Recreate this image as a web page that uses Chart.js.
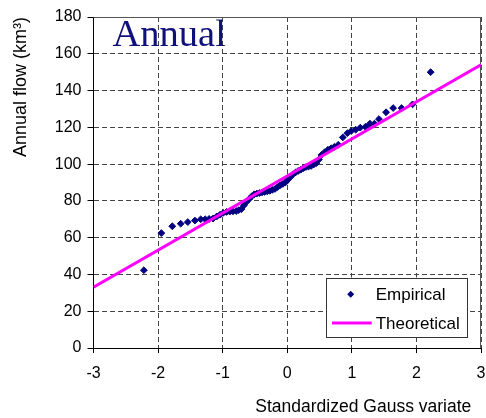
<!DOCTYPE html>
<html><head><meta charset="utf-8">
<script src="https://cdn.jsdelivr.net/npm/chart.js@4/dist/chart.umd.min.js"></script>
<style>html,body{margin:0;padding:0;background:#fff;overflow:hidden;}</style>
</head><body>
<canvas id="c" width="486" height="418"></canvas>
<script>
// ---- data ----
const gaussVariate = [
  -2.22, -1.95, -1.78, -1.65, -1.54, -1.43, -1.34, -1.27, -1.21, -1.15,
  -1.09, -1.04, -0.99, -0.94, -0.89, -0.84, -0.79, -0.75, -0.71, -0.67,
  -0.63, -0.59, -0.55, -0.51, -0.47, -0.43, -0.39, -0.35, -0.31, -0.27,
  -0.23, -0.19, -0.15, -0.11, -0.07, -0.03, 0.01, 0.05, 0.09, 0.13,
  0.17, 0.21, 0.25, 0.29, 0.33, 0.37, 0.41, 0.45, 0.49, 0.53,
  0.58, 0.63, 0.68, 0.73, 0.79, 0.86, 0.93, 0.99, 1.06, 1.13,
  1.21, 1.28, 1.35, 1.42, 1.53, 1.64, 1.77, 1.94, 2.22
];
const annualFlow = [
  42.3, 62.5, 66.2, 67.6, 68.5, 69.3, 70.0, 70.0, 70.2, 70.4,
  71.6, 72.5, 73.5, 74.0, 74.2, 74.3, 74.5, 75.0, 75.5, 77.6,
  79.5, 81.0, 82.5, 83.6, 84.0, 84.3, 84.6, 84.9, 85.2, 85.5,
  86.0, 86.5, 87.5, 88.5, 89.2, 90.0, 91.5, 93.0, 94.5, 95.5,
  96.3, 97.0, 97.8, 98.4, 98.7, 99.0, 99.8, 100.5, 102.5, 105.0,
  106.5, 107.8, 108.6, 109.4, 110.5, 114.5, 116.8, 118.0, 118.7, 119.8,
  120.3, 122.0, 122.0, 124.5, 128.2, 130.5, 130.5, 132.5, 150.0
];
const theoreticalX = [-3, 3];
const theoreticalY = [33, 154];
const xTickValues = [-3, -2, -1, 0, 1, 2, 3];
const xTickLabels = ['-3', '-2', '-1', '0', '1', '2', '3'];
const yTickValues = [0, 20, 40, 60, 80, 100, 120, 140, 160, 180];
const yTickLabels = ['0', '20', '40', '60', '80', '100', '120', '140', '160', '180'];
const seriesLabels = ['Empirical', 'Theoretical'];
const panelTitle = 'Annual';
const xTitle = 'Standardized Gauss variate';
const yTitle = 'Annual flow (km\u00B3)';

// ---- styles ----
const NAVY = '#000080';
const MAGENTA = '#FF00FF';
const FONT = "'Liberation Sans', Arial, sans-serif";

const empirical = gaussVariate.map((x, i) => ({x: x, y: annualFlow[i]}));
const theoretical = theoreticalX.map((x, i) => ({x: x, y: theoreticalY[i]}));

const framePlugin = {
  id: 'frame',
  beforeDatasetsDraw(chart) {
    const {ctx, chartArea: a} = chart;
    ctx.save();
    ctx.strokeStyle = '#555';
    ctx.lineWidth = 1;
    ctx.setLineDash([]);
    ctx.beginPath();
    ctx.moveTo(a.left, a.top + 0.5);
    ctx.lineTo(a.right - 0.5, a.top + 0.5);
    ctx.lineTo(a.right - 0.5, a.bottom);
    ctx.stroke();
    ctx.restore();
  },
  afterDatasetsDraw(chart) {
    const {ctx, chartArea: a} = chart;
    ctx.save();
    // panel title
    ctx.fillStyle = '#10107a';
    ctx.font = "38.5px 'Liberation Serif', 'Times New Roman', serif";
    ctx.textBaseline = 'alphabetic';
    ctx.textAlign = 'left';
    ctx.fillText(panelTitle, a.left + 19, a.top + 28.5);

    // legend box
    const bx = a.right - 154.7, by = a.bottom - 70.5, bw = 141, bh = 58.7;
    ctx.fillStyle = '#fff';
    ctx.fillRect(bx, by, bw, bh);
    ctx.strokeStyle = '#333';
    ctx.lineWidth = 1;
    ctx.strokeRect(Math.round(bx) + 0.5, Math.round(by) + 0.5, Math.round(bw), Math.round(bh));
    // Empirical marker
    const ds0 = chart.data.datasets[0];
    const ds1 = chart.data.datasets[1];
    const mx = bx + 24.4, my = by + 16.7;
    ctx.fillStyle = ds0.backgroundColor;
    ctx.beginPath();
    ctx.moveTo(mx, my - 3.5); ctx.lineTo(mx + 3.5, my); ctx.lineTo(mx, my + 3.5); ctx.lineTo(mx - 3.5, my);
    ctx.closePath(); ctx.fill();
    // Theoretical line
    const ly = by + 45.4;
    ctx.strokeStyle = ds1.borderColor;
    ctx.lineWidth = 3;
    ctx.beginPath(); ctx.moveTo(bx + 5.7, ly); ctx.lineTo(bx + 45.4, ly); ctx.stroke();
    // text
    ctx.fillStyle = '#000';
    ctx.font = '17px ' + FONT;
    ctx.textBaseline = 'middle';
    ctx.fillText(ds0.label, bx + 49.4, my + 1);
    ctx.fillText(ds1.label, bx + 49.4, ly + 1);
    ctx.restore();
  }
};

new Chart(document.getElementById('c'), {
  type: 'scatter',
  data: {
    datasets: [
      {
        label: seriesLabels[0],
        data: empirical,
        pointStyle: 'rectRot',
        pointRadius: 3.4,
        pointBorderWidth: 1,
        backgroundColor: NAVY,
        borderColor: NAVY,
        order: 1
      },
      {
        label: seriesLabels[1],
        data: theoretical,
        showLine: true,
        pointRadius: 0,
        borderColor: MAGENTA,
        backgroundColor: MAGENTA,
        borderWidth: 3,
        order: 0
      }
    ]
  },
  options: {
    responsive: false,
    animation: false,
    devicePixelRatio: 1,
    layout: { padding: { left: 0, right: 4, top: 17, bottom: 0 } },
    plugins: {
      legend: { display: false },
      tooltip: { enabled: false }
    },
    scales: {
      x: {
        type: 'linear',
        min: -3, max: 3,
        afterBuildTicks: s => { s.ticks = xTickValues.map(v => ({value: v})); },
        afterFit: s => { s.height = 70; s.paddingRight = 4; s.paddingLeft = 0; },
        ticks: {
          callback: (v, i) => xTickLabels[i],
          color: '#000',
          font: { family: FONT, size: 16 },
          padding: 11,
          maxRotation: 0
        },
        grid: { color: '#444', lineWidth: 1, tickColor: '#000', tickLength: 5, tickBorderDash: [] },
        border: { display: true, color: '#000', width: 1, dash: [5, 3] },
        title: {
          display: true, text: xTitle + '\u00A0\u00A0', align: 'end', color: '#000',
          font: { family: FONT, size: 17.5 }, padding: { top: 0, bottom: 0 }
        }
      },
      y: {
        type: 'linear',
        min: 0, max: 180,
        afterBuildTicks: s => { s.ticks = yTickValues.map(v => ({value: v})); },
        afterFit: s => { s.width = 93.5; },
        ticks: {
          callback: (v, i) => yTickLabels[i],
          color: '#000',
          font: { family: FONT, size: 16 },
          padding: 6
        },
        grid: { color: '#444', lineWidth: 1, tickColor: '#000', tickLength: 6, tickBorderDash: [] },
        border: { display: true, color: '#000', width: 1, dash: [5, 3] },
        title: {
          display: true, text: yTitle, align: 'end', color: '#000',
          font: { family: FONT, size: 18 }, padding: { top: 10, bottom: 0 }
        }
      }
    }
  },
  plugins: [framePlugin]
});
</script>
</body></html>
